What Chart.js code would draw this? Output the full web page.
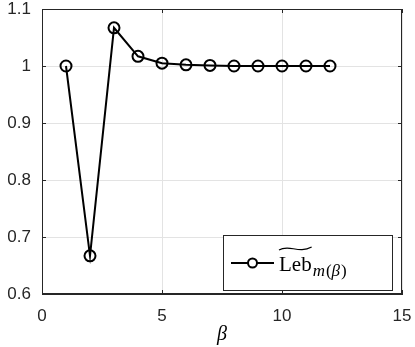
<!DOCTYPE html>
<html>
<head>
<meta charset="utf-8">
<script src="https://cdn.jsdelivr.net/npm/chart.js@4.4.1/dist/chart.umd.min.js"></script>
<style>
  html, body { margin: 0; padding: 0; background: #fff; }
  #wrap { position: relative; width: 415px; height: 347px; }
</style>
</head>
<body>
<div id="wrap"><canvas id="chart" width="415" height="347"></canvas></div>
<script>
// values
const betaValues = [1, 2, 3, 4, 5, 6, 7, 8, 9, 10, 11, 12];
const lebValues = [1.0, 0.667, 1.067, 1.017, 1.005, 1.002, 1.001, 1.0, 1.0, 1.0, 1.0, 1.0];
const xTicks = [0, 5, 10, 15];
const yTicks = [0.6, 0.7, 0.8, 0.9, 1, 1.1];

const tickFont = { family: "'Liberation Sans', Helvetica, Arial, sans-serif", size: 17 };
const axisColor = "#262626";

// box round the axes, inward ticks, and the legend with the tilde label
const boxPlugin = {
  id: "box",
  afterDraw(chart) {
    const { ctx, chartArea: a, scales } = chart;
    ctx.save();
    ctx.strokeStyle = axisColor;
    ctx.lineWidth = 1;
    ctx.strokeRect(a.left + 0.5, a.top + 0.5, a.right - a.left - 1, a.bottom - a.top - 1);
    ctx.beginPath();
    xTicks.forEach(v => {
      const x = Math.round(scales.x.getPixelForValue(v)) + 0.5;
      ctx.moveTo(x, a.bottom); ctx.lineTo(x, a.bottom - 4);
      ctx.moveTo(x, a.top); ctx.lineTo(x, a.top + 4);
    });
    yTicks.forEach(v => {
      const y = Math.round(scales.y.getPixelForValue(v)) + 0.5;
      ctx.moveTo(a.left, y); ctx.lineTo(a.left + 4, y);
      ctx.moveTo(a.right, y); ctx.lineTo(a.right - 4, y);
    });
    ctx.stroke();

    // legend
    const lx = 223, ly = 235, lw = 169, lh = 55;
    ctx.fillStyle = "#fff";
    ctx.fillRect(lx, ly, lw, lh);
    ctx.strokeStyle = axisColor;
    ctx.strokeRect(lx + 0.5, ly + 0.5, lw, lh);
    const my = ly + 28;
    ctx.strokeStyle = "#000";
    ctx.lineWidth = 2;
    ctx.beginPath();
    ctx.moveTo(231, my); ctx.lineTo(274, my);
    ctx.stroke();
    ctx.beginPath();
    ctx.arc(252.5, my, 4.5, 0, Math.PI * 2);
    ctx.fillStyle = "#fff";
    ctx.fill();
    ctx.stroke();

    ctx.fillStyle = "#000";
    ctx.textBaseline = "alphabetic";
    const x0 = 279;
    ctx.font = "21px 'Liberation Serif', serif";
    ctx.fillText("Leb", x0, my + 8);
    const wLeb = ctx.measureText("Leb").width;
    // wide tilde above "Leb"
    ctx.lineWidth = 1.2;
    ctx.beginPath();
    const tx0 = x0, tx1 = x0 + wLeb, ty = my - 15;
    ctx.moveTo(tx0, ty + 2);
    ctx.bezierCurveTo(tx0 + (tx1 - tx0) * 0.3, ty - 4, tx0 + (tx1 - tx0) * 0.6, ty + 6, tx1, ty - 1);
    ctx.stroke();
    let sx = x0 + wLeb + 1;
    const sy = my + 13;
    ctx.font = "italic 17px 'Liberation Serif', serif";
    ctx.fillText("m", sx, sy);
    sx += ctx.measureText("m").width + 1;
    ctx.font = "17px 'Liberation Serif', serif";
    ctx.fillText("(", sx, sy);
    sx += ctx.measureText("(").width;
    ctx.font = "italic 17px 'Liberation Serif', serif";
    ctx.fillText("\u03B2", sx, sy);
    sx += ctx.measureText("\u03B2").width + 1;
    ctx.font = "17px 'Liberation Serif', serif";
    ctx.fillText(")", sx, sy);
    ctx.restore();
  }
};

new Chart(document.getElementById("chart"), {
  type: "line",
  data: {
    datasets: [{
      label: "Leb",
      data: betaValues.map((b, i) => ({ x: b, y: lebValues[i] })),
      borderColor: "#000",
      borderWidth: 2,
      pointRadius: 5.5,
      pointBorderWidth: 2,
      pointBackgroundColor: "rgba(255,255,255,0)",
      pointBorderColor: "#000",
      tension: 0
    }]
  },
  options: {
    responsive: false,
    animation: false,
    layout: { padding: { left: 0, right: 13, top: 9, bottom: 0 } },
    plugins: { legend: { display: false }, tooltip: { enabled: false } },
    scales: {
      x: {
        type: "linear",
        min: 0, max: 15,
        afterBuildTicks: s => { s.ticks = xTicks.map(v => ({ value: v })); },
        afterFit: s => { s.height = 53; s.paddingLeft = 0; s.paddingRight = 0; },
        grid: { color: "#e3e3e3", drawTicks: false },
        border: { color: axisColor },
        ticks: { font: tickFont, color: axisColor, padding: 12 },
        title: {
          display: true, text: "\u03B2", color: "#000",
          font: { family: "'Liberation Serif', serif", size: 20, style: "italic" },
          padding: { top: 0, bottom: 0 }
        }
      },
      y: {
        min: 0.6, max: 1.1,
        afterBuildTicks: s => { s.ticks = yTicks.map(v => ({ value: v })); },
        afterFit: s => { s.width = 42; s.paddingTop = 0; s.paddingBottom = 0; },
        grid: { color: "#e3e3e3", drawTicks: false },
        border: { color: axisColor },
        ticks: { font: tickFont, color: axisColor, padding: 11, callback: v => String(Math.round(v * 10) / 10) }
      }
    }
  },
  plugins: [boxPlugin]
});
</script>
</body>
</html>
